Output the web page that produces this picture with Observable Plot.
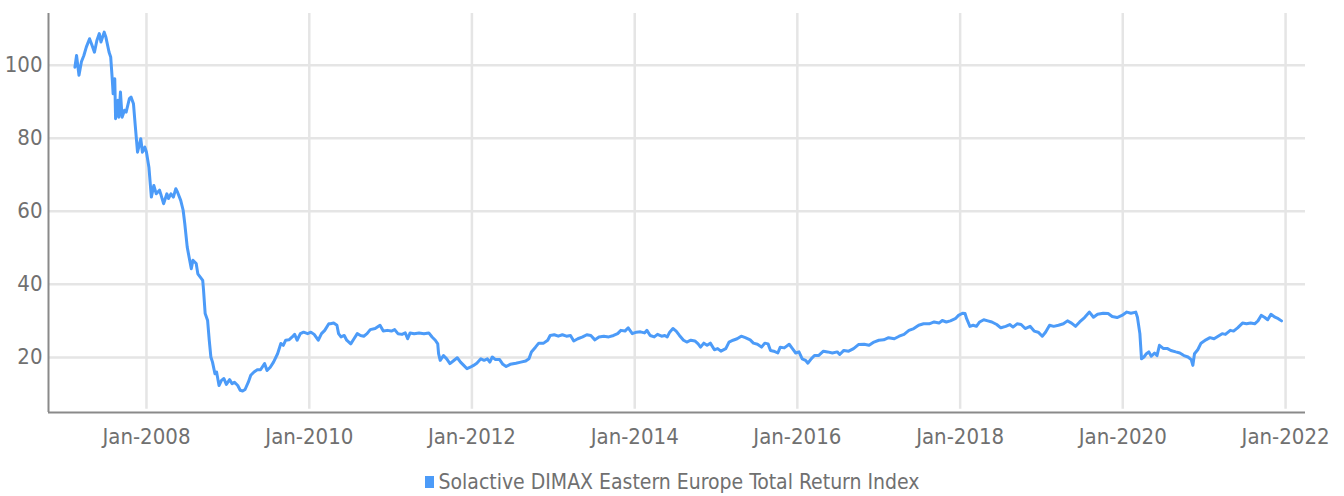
<!DOCTYPE html>
<html>
<head>
<meta charset="utf-8">
<script src="https://cdn.jsdelivr.net/npm/d3@7"></script>
<script src="https://cdn.jsdelivr.net/npm/@observablehq/plot@0.6"></script>
<style>
  html, body { margin: 0; padding: 0; background: #fff; }
  body { width: 1344px; height: 496px; overflow: hidden; font-family: "Liberation Sans Narrow", "DejaVu Sans Condensed", sans-serif; }
  #legend { display: flex; justify-content: center; align-items: center; margin-top: 10px; font-size: 21px; color: #707070; }
  #legend .sw { width: 9px; height: 12px; margin-right: 5px; }
</style>
</head>
<body>
<div id="chart"></div>
<div id="legend"></div>
<script>
const seriesName = "Solactive DIMAX Eastern Europe Total Return Index";
const lineColor = "#4c9bf8";

// Decimal-year dates of the readings
const years = [
  2007.12,2007.14,2007.17,2007.20,2007.23,2007.26,2007.30,2007.33,2007.36,2007.39,
  2007.42,2007.44,2007.48,2007.50,2007.54,2007.56,2007.58,2007.59,2007.61,2007.62,
  2007.65,2007.66,2007.68,2007.70,2007.73,2007.75,2007.79,2007.81,2007.84,2007.86,
  2007.89,2007.93,2007.95,2007.98,2008.00,2008.03,2008.06,2008.09,2008.12,2008.16,
  2008.18,2008.21,2008.25,2008.27,2008.30,2008.33,2008.36,2008.38,2008.42,2008.45,
  2008.47,2008.50,2008.53,2008.55,2008.57,2008.61,2008.63,2008.66,2008.69,2008.70,
  2008.72,2008.75,2008.77,2008.79,2008.81,2008.84,2008.86,2008.89,2008.92,2008.95,
  2008.98,2009.02,2009.05,2009.08,2009.12,2009.15,2009.18,2009.21,2009.25,2009.28,
  2009.32,2009.36,2009.40,2009.45,2009.48,2009.52,2009.56,2009.61,2009.65,2009.68,
  2009.71,2009.75,2009.79,2009.82,2009.85,2009.89,2009.93,2009.98,2010.02,2010.06,
  2010.11,2010.15,2010.19,2010.24,2010.26,2010.30,2010.34,2010.36,2010.39,2010.43,
  2010.46,2010.51,2010.55,2010.59,2010.63,2010.67,2010.71,2010.75,2010.81,2010.87,
  2010.91,2010.96,2011.01,2011.05,2011.09,2011.14,2011.18,2011.21,2011.24,2011.29,
  2011.35,2011.41,2011.47,2011.51,2011.55,2011.58,2011.59,2011.61,2011.65,2011.69,
  2011.73,2011.77,2011.82,2011.86,2011.90,2011.94,2011.98,2012.02,2012.06,2012.11,
  2012.15,2012.19,2012.22,2012.25,2012.29,2012.34,2012.38,2012.42,2012.47,2012.54,
  2012.60,2012.66,2012.70,2012.73,2012.78,2012.82,2012.88,2012.93,2012.96,2013.01,
  2013.06,2013.11,2013.16,2013.21,2013.25,2013.30,2013.36,2013.41,2013.46,2013.51,
  2013.56,2013.62,2013.68,2013.74,2013.79,2013.83,2013.88,2013.92,2013.97,2014.02,
  2014.07,2014.12,2014.15,2014.19,2014.24,2014.28,2014.33,2014.37,2014.40,2014.43,
  2014.47,2014.51,2014.55,2014.60,2014.64,2014.69,2014.74,2014.78,2014.81,2014.85,
  2014.89,2014.93,2014.98,2015.02,2015.06,2015.12,2015.16,2015.21,2015.26,2015.31,
  2015.36,2015.42,2015.46,2015.51,2015.56,2015.60,2015.64,2015.67,2015.71,2015.76,
  2015.79,2015.84,2015.90,2015.94,2015.98,2016.02,2016.06,2016.10,2016.13,2016.17,
  2016.21,2016.26,2016.32,2016.37,2016.43,2016.49,2016.52,2016.57,2016.63,2016.69,
  2016.75,2016.82,2016.88,2016.94,2017.00,2017.06,2017.12,2017.19,2017.25,2017.31,
  2017.37,2017.43,2017.49,2017.55,2017.62,2017.68,2017.74,2017.78,2017.83,2017.88,
  2017.94,2017.98,2018.03,2018.06,2018.08,2018.12,2018.16,2018.20,2018.24,2018.29,
  2018.34,2018.39,2018.45,2018.50,2018.56,2018.61,2018.65,2018.70,2018.75,2018.80,
  2018.86,2018.91,2018.96,2019.01,2019.05,2019.10,2019.15,2019.21,2019.27,2019.32,
  2019.37,2019.42,2019.47,2019.53,2019.59,2019.64,2019.69,2019.76,2019.82,2019.87,
  2019.93,2019.99,2020.05,2020.10,2020.16,2020.18,2020.21,2020.23,2020.26,2020.29,
  2020.32,2020.35,2020.39,2020.42,2020.45,2020.50,2020.55,2020.59,2020.65,2020.70,
  2020.75,2020.80,2020.84,2020.86,2020.88,2020.92,2020.96,2021.02,2021.07,2021.12,
  2021.17,2021.22,2021.26,2021.32,2021.36,2021.41,2021.47,2021.52,2021.57,2021.62,
  2021.66,2021.70,2021.74,2021.78,2021.82,2021.87,2021.91,2021.95
];

// Index values
const values = [
  99.5,102.7,97.3,101,102.7,105,107.3,105.5,103.6,106.8,
  108.7,106.4,109.1,107.8,103.6,102.3,95.9,92.2,96.3,85.4,
  90.4,85.8,92.7,85.8,87.7,87.2,90.9,91.3,89.5,84,
  76.2,79.9,76.2,77.6,76.2,72.1,63.9,67.1,64.8,65.8,
  64.4,62.1,64.8,63.5,64.8,63.9,66.2,65.3,63,60.3,
  56.6,50.2,46.6,44.3,46.6,45.7,42.9,42,41.1,38.4,
  32,30.1,24.7,20.1,18.7,15.5,16,12.3,13.7,14.2,
  12.6,13.9,12.8,13.2,12.3,11,10.8,11.2,13.2,15.1,
  16,16.6,16.6,18.3,16.4,17.3,18.7,21,23.8,23.3,
  24.7,24.8,25.6,26.3,24.7,26.5,26.9,26.5,26.9,26.3,
  24.7,26.5,27.4,29.2,29.2,29.4,28.8,26.5,25.6,26,
  24.7,23.7,25.1,26.5,26,25.8,26.5,27.6,27.9,28.8,
  27.2,27.4,27.2,27.6,26.5,26.3,26.7,25.1,26.7,26.5,
  26.7,26.5,26.7,25.6,24.7,23.7,21,19.2,20.5,19.6,
  18.3,19,19.9,18.7,17.8,16.9,17.3,17.8,18.4,19.6,
  19.2,19.6,18.7,20.1,19.4,19.4,18.1,17.5,18.1,18.4,
  18.7,19,19.6,21.5,22.8,23.9,23.9,24.7,26,26.2,
  25.8,26.2,25.8,26,24.5,25.1,25.6,26.2,26,24.8,
  25.6,25.8,25.6,26,26.5,27.4,27.2,28.1,26.5,26.9,
  27,26.7,27.4,26,25.6,26.3,25.8,26,25.6,26.9,
  27.9,27.2,26,24.7,24.2,24.7,24.5,23.7,22.8,23.9,
  23.3,23.9,22.1,22.4,21.7,22.4,24.2,24.7,25.1,25.8,
  25.4,24.8,23.9,23.6,22.8,23.9,23.7,21.9,21.7,21.2,
  22.8,22.6,23.6,22.4,21.2,21.5,19.6,19.2,18.4,19.6,
  20.5,20.5,21.7,21.5,21.2,21.5,20.8,21.9,21.7,22.4,
  23.5,23.6,23.3,24.2,24.7,24.8,25.4,25.1,25.8,26.3,
  27.4,27.9,28.8,29.2,29.2,29.7,29.4,30.1,29.7,30,
  30.6,31.5,32.1,32,30.6,28.5,28.8,28.5,29.7,30.3,
  30,29.7,29,28.1,28.5,29,28.3,29.2,29,27.9,
  28.5,27.2,26.9,25.8,26.9,28.8,28.5,28.8,29.2,30,
  29.4,28.5,29.7,30.9,32.4,31,31.8,32.1,32,31.2,
  30.9,31.5,32.4,32.1,32.4,31,26.5,19.6,20.1,21,
  21.5,20.3,21.2,20.5,23.3,22.4,22.4,21.9,21.5,21.2,
  20.5,20.1,19.4,17.8,21,22.1,23.9,24.8,25.4,25.1,
  25.8,26.5,26.3,27.4,27.2,28.1,29.4,29.2,29.4,29.2,
  30,31.5,31,30.3,31.8,31,30.6,30
];

const yTicks = [20, 40, 60, 80, 100];
const xTickYears = [2008, 2010, 2012, 2014, 2016, 2018, 2020, 2022];

function toDate(dy) {
  const y = Math.floor(dy);
  const a = Date.UTC(y, 0, 1), b = Date.UTC(y + 1, 0, 1);
  return new Date(a + (dy - y) * (b - a));
}
const data = years.map((t, i) => ({date: toDate(t), value: values[i]}));
const xTicks = xTickYears.map(y => new Date(Date.UTC(y, 0, 1)));
const fmt = d3.utcFormat("%b-%Y");

const xDomain = [toDate(2006.795), toDate(2022.245)];
const yDomain = [4.9, 114.2];

const chart = Plot.plot({
  width: 1344,
  height: 460,
  marginTop: 13,
  marginBottom: 48,
  marginLeft: 48,
  marginRight: 39,
  style: {fontFamily: '"Liberation Sans Narrow", "DejaVu Sans Condensed", sans-serif', fontSize: "22px", color: "#707070", background: "#fff"},
  x: {type: "utc", domain: xDomain},
  y: {domain: yDomain},
  marks: [
    Plot.gridY(yTicks, {stroke: "#e5e5e5", strokeOpacity: 1, strokeWidth: 2.5}),
    Plot.gridX(xTicks, {stroke: "#e5e5e5", strokeOpacity: 1, strokeWidth: 2.5, y1: yDomain[1], y2: 5.8}),
    Plot.axisY(yTicks, {tickSize: 0, tickPadding: 6, fill: "#707070", label: null}),
    Plot.axisX(xTicks, {tickSize: 0, tickPadding: 16, tickFormat: fmt, fill: "#707070", label: null}),
    Plot.ruleX([xDomain[0]], {stroke: "#8a8a8a", strokeWidth: 2, y1: yDomain[1], y2: yDomain[0]}),
    Plot.ruleY([yDomain[0]], {stroke: "#8a8a8a", strokeWidth: 2}),
    Plot.line(data, {x: "date", y: "value", stroke: lineColor, strokeWidth: 3, strokeLinejoin: "round", curve: "linear"})
  ]
});
document.getElementById("chart").appendChild(chart);

const lg = document.getElementById("legend");
lg.innerHTML = `<span class="sw" style="background:${lineColor}"></span><span>${seriesName}</span>`;
</script>
</body>
</html>
